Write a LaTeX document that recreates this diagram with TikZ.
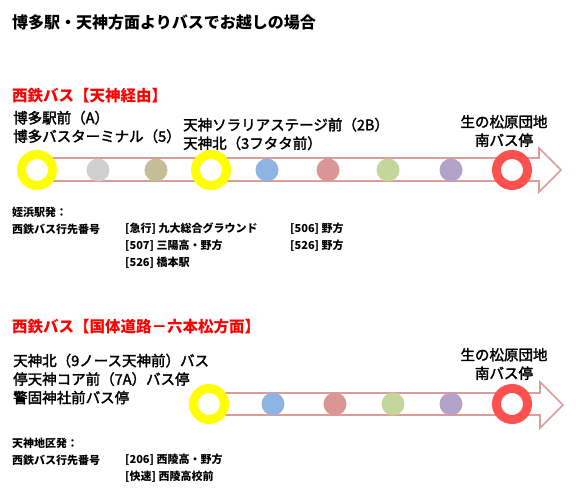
\documentclass[tikz,border=0pt]{standalone}
\usepackage{fontspec}
\setmainfont{Noto Sans CJK JP}
\newfontfamily\jp{Noto Sans CJK JP}
\newfontfamily\jpmed[FakeBold=2]{Noto Sans CJK JP}
\definecolor{arrowline}{HTML}{DC9C9A}
\definecolor{ringyellow}{HTML}{FFFF00}
\definecolor{ringred}{HTML}{FF5050}
\definecolor{dotgray}{HTML}{D0D0D0}
\definecolor{dottan}{HTML}{C4BD97}
\definecolor{dotblue}{HTML}{8DB4E2}
\definecolor{dotpink}{HTML}{D99694}
\definecolor{dotgreen}{HTML}{C3D69B}
\definecolor{dotpurple}{HTML}{B3A2C7}
\definecolor{headred}{HTML}{FF0000}
\tikzset{
  ring/.style={circle, draw=#1, line width=9pt, fill=white, minimum size=31pt, inner sep=0pt},
  dot/.style={circle, fill=#1, minimum size=23pt, inner sep=0pt},
  arrowbody/.style={draw=arrowline, line width=1.6pt, fill=white, line join=miter},
  titletext/.style={anchor=west, inner sep=0pt, font=\jp\bfseries\fontsize{16}{18}\selectfont},
  headtext/.style={anchor=west, inner sep=0pt, text=headred, font=\jp\bfseries\fontsize{15.5}{17}\selectfont},
  labeltext/.style={anchor=west, inner sep=0pt, align=left, font=\jpmed\fontsize{14.5}{18.5}\selectfont},
  endtext/.style={anchor=center, inner sep=0pt, align=center, font=\jpmed\fontsize{14.5}{18.5}\selectfont},
  smalltext/.style={anchor=west, inner sep=0pt, font=\jp\bfseries\fontsize{11}{12}\selectfont},
}
\begin{document}
\begin{tikzpicture}[x=1pt,y=-1pt]
\useasboundingbox[fill=white] (0,0) rectangle (576,497);

% title
\node[titletext] (title) at (12,22) {博多駅・天神方面よりバスでお越しの場合};

% ---------- route 1 ----------
\node[headtext] (head1) at (12,96) {西鉄バス【天神経由】};
\node[labeltext] (lab1a) at (13,127) {博多駅前（A）\\博多バスターミナル（5）};
\node[labeltext] (lab1b) at (183,134) {天神ソラリアステージ前（2B）\\天神北（3フタタ前）};
\node[endtext] (lab1c) at (504,131) {生の松原団地\\南バス停};

\draw[arrowbody] (40,158) -- (539,158) -- (539,148) -- (561,170) -- (539,192) -- (539,181) -- (40,181) -- cycle;

\node[ring=ringyellow] (s1a) at (37,170) {};
\node[dot=dotgray] (s1b) at (98,170) {};
\node[dot=dottan] (s1c) at (156,170) {};
\node[ring=ringyellow] (s1d) at (211,170) {};
\node[dot=dotblue] (s1e) at (267,170) {};
\node[dot=dotpink] (s1f) at (328,170) {};
\node[dot=dotgreen] (s1g) at (388,170) {};
\node[dot=dotpurple] (s1h) at (451,170) {};
\node[ring=ringred] (s1i) at (512,170) {};

\node[smalltext] (dep1) at (12,212) {姪浜駅発：};
\node[smalltext] (dep1b) at (12,229) {西鉄バス行先番号};
\node[smalltext] (r1a) at (125,229) {[急行] 九大総合グラウンド};
\node[smalltext] (r1b) at (125,246) {[507] 三陽高・野方};
\node[smalltext] (r1c) at (125,263) {[526] 橋本駅};
\node[smalltext] (r1d) at (290,229) {[506] 野方};
\node[smalltext] (r1e) at (290,246) {[526] 野方};

% ---------- route 2 ----------
\node[headtext] (head2) at (12,327) {西鉄バス【国体道路－六本松方面】};
\node[labeltext] (lab2a) at (13,379) {天神北（9ノース天神前）バス\\停天神コア前（7A）バス停\\警固神社前バス停};
\node[endtext] (lab2c) at (504,364) {生の松原団地\\南バス停};

\draw[arrowbody] (215,393) -- (540,393) -- (540,382) -- (563,405) -- (540,428) -- (540,415) -- (215,415) -- cycle;

\node[ring=ringyellow] (s2a) at (209,404) {};
\node[dot=dotblue] (s2b) at (273,404) {};
\node[dot=dotpink] (s2c) at (335,404) {};
\node[dot=dotgreen] (s2d) at (393,404) {};
\node[dot=dotpurple] (s2e) at (451,404) {};
\node[ring=ringred] (s2f) at (512,404) {};

\node[smalltext] (dep2) at (12,443) {天神地区発：};
\node[smalltext] (dep2b) at (12,460) {西鉄バス行先番号};
\node[smalltext] (r2a) at (125,460) {[206] 西陵高・野方};
\node[smalltext] (r2b) at (125,477) {[快速] 西陵高校前};
\end{tikzpicture}
\end{document}
